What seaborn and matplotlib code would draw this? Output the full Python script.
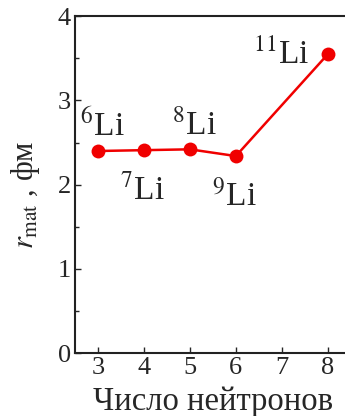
import pandas as pd
import matplotlib.pyplot as plt
import seaborn as sns

# neutron number vs matter radius of Li isotopes
neutrons = [3, 4, 5, 6, 8]
r_mat = [2.40, 2.41, 2.42, 2.34, 3.55]
isotopes = ['6', '7', '8', '9', '11']
# label placement relative to the point
label_side = ['up', 'down', 'up', 'down', 'left']

df = pd.DataFrame({'N': neutrons, 'r': r_mat})

sns.set_theme(style='ticks')
plt.rcParams['font.family'] = ['Liberation Serif', 'DejaVu Serif']
plt.rcParams['mathtext.fontset'] = 'stix'

fig = plt.figure(figsize=(3.45, 4.16), dpi=100)
ax = fig.add_axes([0.217, 0.151, 0.80, 0.81])

sns.lineplot(data=df, x='N', y='r', ax=ax, color='#f00000', linewidth=1.8,
             marker='o', markersize=10, markeredgewidth=0)

# isotope labels
offsets = {'up': (3, 6), 'down': (-1, -17), 'left': (-13, -12)}
for n, r, iso, side in zip(neutrons, r_mat, isotopes, label_side):
    txt = r'$^{%s}$Li' % iso
    va = 'top' if side == 'down' else 'bottom'
    ha = 'right' if side == 'left' else 'center'
    ax.annotate(txt, (n, r), xytext=offsets[side], textcoords='offset points',
                ha=ha, va=va, fontsize=24)

ax.set_xlim(2.5, 8.5)
ax.set_ylim(0, 4)
ax.set_xticks([3, 4, 5, 6, 7, 8])
ax.set_yticks([0, 1, 2, 3, 4])
ax.set_yticks([0.5, 1.5, 2.5, 3.5], minor=True)
ax.tick_params(direction='in', length=4, width=1, labelsize=19, pad=3)
ax.tick_params(which='minor', direction='in', length=3, width=1)
ax.spines['right'].set_visible(False)
for s in ax.spines.values():
    s.set_linewidth(1.5)
    s.set_color('#222222')

ax.set_xlabel('Число нейтронов', fontsize=23.5, labelpad=5)
ax.set_ylabel(r'$r_{\rm mat}$ , фм', fontsize=22)
ax.yaxis.set_label_coords(-0.12, 0.47)

fig.savefig('out.png', dpi=100)
